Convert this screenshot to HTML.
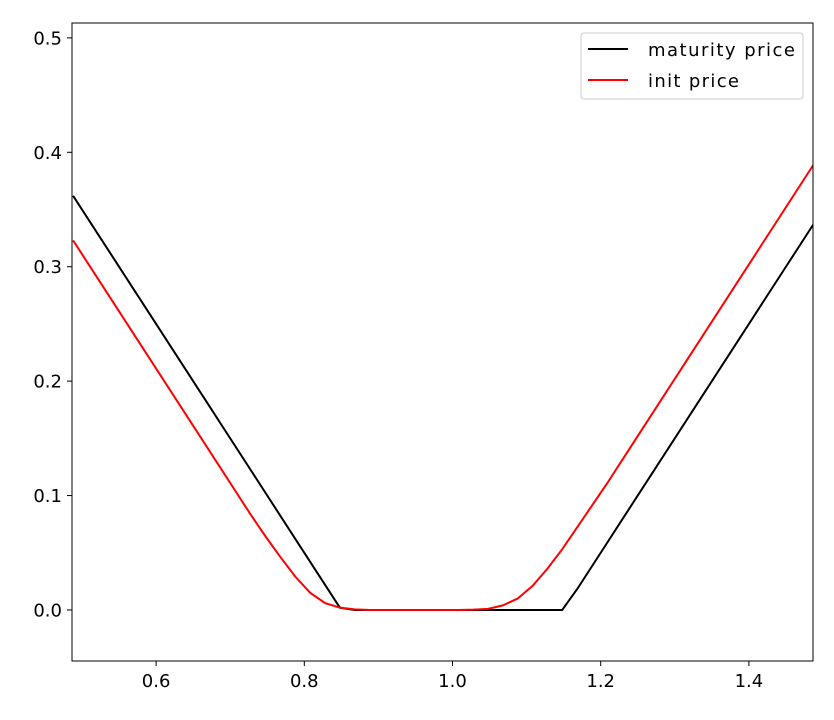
<!DOCTYPE html>
<html><head><meta charset="utf-8"><style>
body{margin:0;background:#fff}
svg{display:block;font-family:"DejaVu Sans","Liberation Sans",sans-serif}
</style></head><body>
<svg id="chart" width="834" height="720"></svg>
<script>
const xs=[];for(let i=0;i<51;i++)xs.push(+(0.488+i*0.02).toFixed(3));
const maturityPrice=[0.362,0.342,0.322,0.302,0.282,0.262,0.242,0.222,0.202,0.182,0.162,0.142,0.122,0.102,0.082,0.062,0.042,0.022,0.002,
0,0,0,0,0,0,0,0,0,0,0,0,0,0,0,
0.018,0.038,0.058,0.078,0.098,0.118,0.138,0.158,0.178,0.198,0.218,0.238,0.258,0.278,0.298,0.318,0.338];
const initPrice=[0.323,0.303,0.283,0.263,0.243,0.223,0.203,0.183,0.163,0.143,0.123,0.103,0.083,0.064,0.046,0.029,0.015,0.006,0.002,0.0005,
0,0,0,0,0,0,0,
0.0003,0.001,0.004,0.010,0.021,0.036,
0.053,0.072,0.091,0.110,0.130,0.150,0.170,0.190,0.210,0.230,0.250,0.270,0.290,0.310,0.330,0.350,0.370,0.390];
const xTicks=[0.6,0.8,1.0,1.2,1.4];
const yTicks=[0.0,0.1,0.2,0.3,0.4,0.5];
const L=72,R=813,T=23,B=661;
const xMin=0.4865,xMax=1.4865,yMin=-0.0446,yMax=0.513;
const sx=v=>L+(v-xMin)/(xMax-xMin)*(R-L);
const sy=v=>B-(v-yMin)/(yMax-yMin)*(B-T);
const svg=document.getElementById('chart');
const NS='http://www.w3.org/2000/svg';
function mk(tag,attrs,parent){const e=document.createElementNS(NS,tag);for(const k in attrs)e.setAttribute(k,attrs[k]);(parent||svg).appendChild(e);return e;}
const clip=mk('clipPath',{id:'c'});mk('rect',{x:L,y:T,width:R-L,height:B-T},clip);
function series(vals,color,name){
  const d=xs.map((x,i)=>(i?'L':'M')+sx(x).toFixed(2)+','+sy(vals[i]).toFixed(2)).join('');
  const p=mk('path',{d:d,fill:'none',stroke:color,'stroke-width':2,'clip-path':'url(#c)'});
  
  
}
series(maturityPrice,'#000','maturity-price-line');
series(initPrice,'#f00','init-price-line');
const frame=mk('rect',{x:L,y:T,width:R-L,height:B-T,fill:'none',stroke:'#000','stroke-width':1});


xTicks.forEach(t=>{const x=sx(t);mk('line',{x1:x,x2:x,y1:B,y2:B+5,stroke:'#000'});
  const tx=mk('text',{x:x,y:B+26,'text-anchor':'middle','font-size':18});tx.textContent=t.toFixed(1);
  
  });
yTicks.forEach(t=>{const y=sy(t);mk('line',{x1:L-5,x2:L,y1:y,y2:y,stroke:'#000'});
  const tx=mk('text',{x:L-10,y:y+6.5,'text-anchor':'end','font-size':18});tx.textContent=t.toFixed(1);
  
  });
</script>
<svg style="position:absolute;left:0;top:0" width="834" height="720">
<rect x="581" y="33" width="222" height="66" rx="3" fill="#fff" fill-opacity="0.8" stroke="#ccc"/>
<g>
<line x1="588" x2="628" y1="49" y2="49" stroke="#000" stroke-width="2"/>
<text x="648" y="56" font-size="18" textLength="147" font-family="DejaVu Sans,sans-serif">maturity price</text></g>
<g>
<line x1="588" x2="628" y1="80" y2="80" stroke="#f00" stroke-width="2"/>
<text x="648" y="87" font-size="18" textLength="91" font-family="DejaVu Sans,sans-serif">init price</text></g>
</svg>
</body></html>
